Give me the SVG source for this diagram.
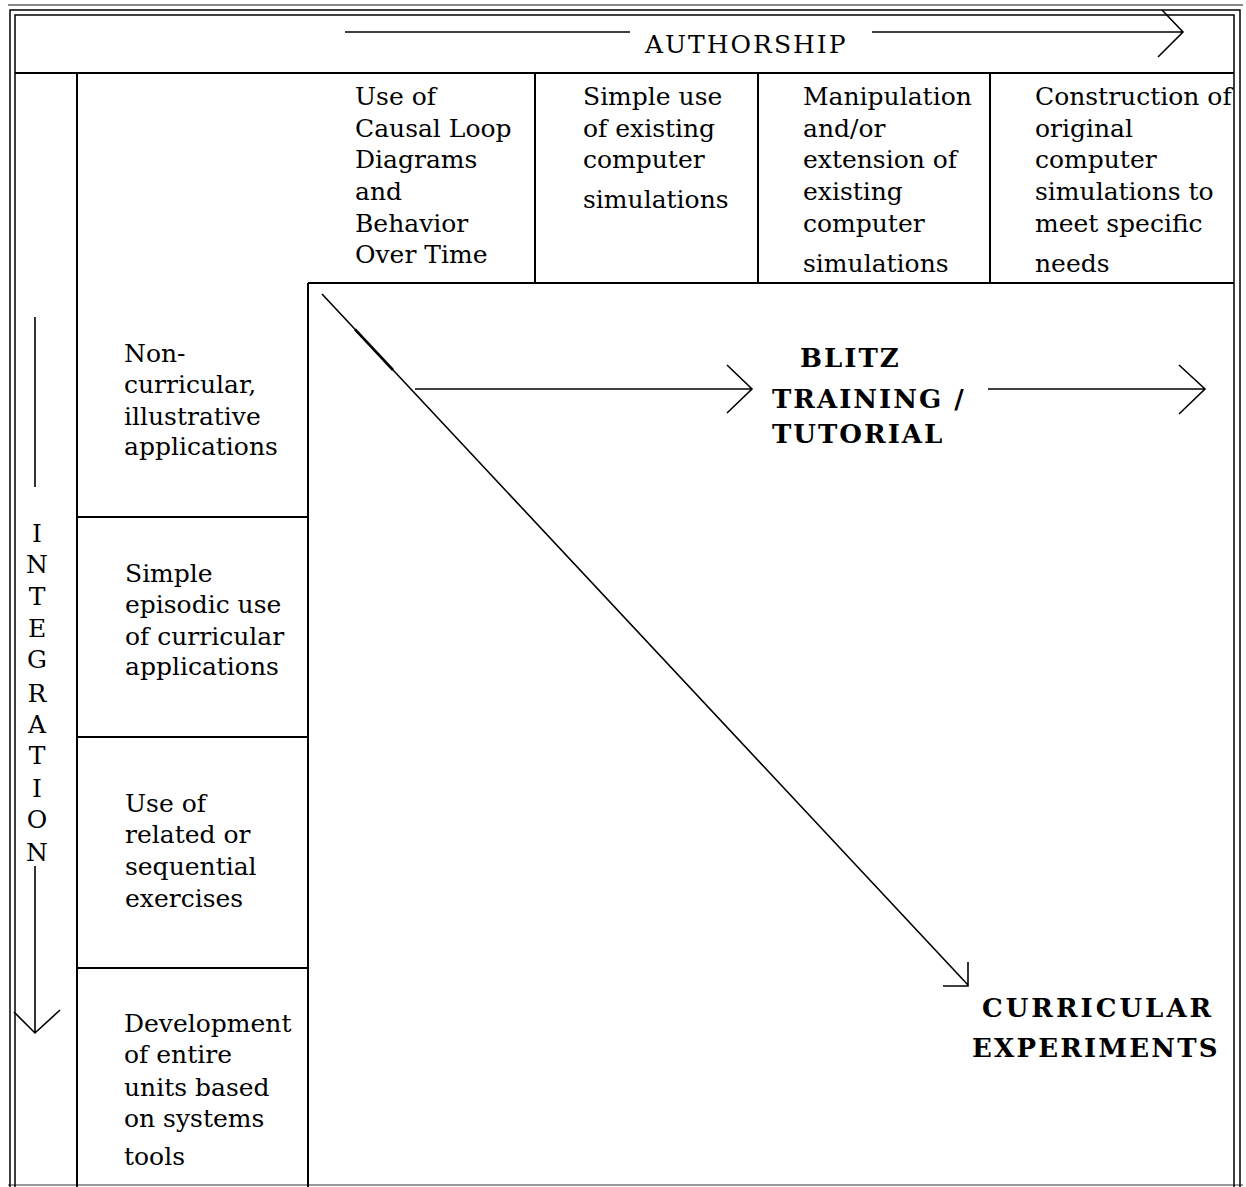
<svg xmlns="http://www.w3.org/2000/svg" width="1246" height="1187" viewBox="0 0 1246 1187">
<style>
.t{font-family:"DejaVu Serif","Liberation Serif",serif;font-size:25px;fill:#000}
.b{font-family:"DejaVu Serif","Liberation Serif",serif;font-size:26px;font-weight:bold;fill:#000;letter-spacing:2px}
.g{stroke:#000;stroke-width:2;fill:none}
.f{stroke:#000;stroke-width:1.5;fill:none}
.c{stroke:#000;stroke-width:1.6;fill:none}
</style>
<rect x="0" y="0" width="1246" height="1187" fill="#fff"/>
<g id="frame">
<line x1="8" y1="5" x2="1243" y2="5" stroke="#888" stroke-width="2"/>
<line x1="8" y1="1185" x2="1243" y2="1185" stroke="#999" stroke-width="2"/>
<path class="f" d="M10,1187 V10 H1240 V1187"/>
<path class="f" d="M15,1187 V15 H1234 V1187"/>
<line class="g" x1="15" y1="73" x2="1234" y2="73"/>
<line class="g" x1="77" y1="73" x2="77" y2="1187"/>
<line class="g" x1="535" y1="73" x2="535" y2="283"/>
<line class="g" x1="758" y1="73" x2="758" y2="283"/>
<line class="g" x1="990" y1="73" x2="990" y2="283"/>
<line class="g" x1="308" y1="283" x2="1234" y2="283"/>
<line class="g" x1="308" y1="283" x2="308" y2="1187"/>
<line class="g" x1="77" y1="517" x2="308" y2="517"/>
<line class="g" x1="77" y1="737" x2="308" y2="737"/>
<line class="g" x1="77" y1="968" x2="308" y2="968"/>
</g>
<g id="authorship">
<text class="t" x="645" y="53" style="letter-spacing:2px">AUTHORSHIP</text>
</g>
<g id="integration">
<text class="t" text-anchor="middle" x="37"><tspan x="37" y="542">I</tspan><tspan x="37" y="573">N</tspan><tspan x="37" y="605">T</tspan><tspan x="37" y="637">E</tspan><tspan x="37" y="668">G</tspan><tspan x="37" y="702">R</tspan><tspan x="37" y="733">A</tspan><tspan x="37" y="764">T</tspan><tspan x="37" y="797">I</tspan><tspan x="37" y="828">O</tspan><tspan x="37" y="861">N</tspan></text>
</g>
<g id="col1">
<text class="t"><tspan x="355" y="105">Use of</tspan><tspan x="355" y="137">Causal Loop</tspan><tspan x="355" y="168">Diagrams</tspan><tspan x="355" y="200">and</tspan><tspan x="355" y="232">Behavior</tspan><tspan x="355" y="263">Over Time</tspan></text>
</g>
<g id="col2">
<text class="t"><tspan x="583" y="105">Simple use</tspan><tspan x="583" y="137">of existing</tspan><tspan x="583" y="168">computer</tspan><tspan x="583" y="208">simulations</tspan></text>
</g>
<g id="col3">
<text class="t"><tspan x="803" y="105">Manipulation</tspan><tspan x="803" y="137">and/or</tspan><tspan x="803" y="168">extension of</tspan><tspan x="803" y="200">existing</tspan><tspan x="803" y="232">computer</tspan><tspan x="803" y="272">simulations</tspan></text>
</g>
<g id="col4">
<text class="t"><tspan x="1035" y="105">Construction of</tspan><tspan x="1035" y="137">original</tspan><tspan x="1035" y="168">computer</tspan><tspan x="1035" y="200">simulations to</tspan><tspan x="1035" y="232">meet specific</tspan><tspan x="1035" y="272">needs</tspan></text>
</g>
<g id="row1">
<text class="t"><tspan x="124" y="362">Non-</tspan><tspan x="124" y="393">curricular,</tspan><tspan x="124" y="425">illustrative</tspan><tspan x="124" y="455">applications</tspan></text>
</g>
<g id="row2">
<text class="t"><tspan x="125" y="582">Simple</tspan><tspan x="125" y="613">episodic use</tspan><tspan x="125" y="645">of curricular</tspan><tspan x="125" y="675">applications</tspan></text>
</g>
<g id="row3">
<text class="t"><tspan x="125" y="812">Use of</tspan><tspan x="125" y="843">related or</tspan><tspan x="125" y="875">sequential</tspan><tspan x="125" y="907">exercises</tspan></text>
</g>
<g id="row4">
<text class="t"><tspan x="124" y="1032">Development</tspan><tspan x="124" y="1063">of entire</tspan><tspan x="124" y="1096">units based</tspan><tspan x="124" y="1127">on systems</tspan><tspan x="124" y="1165">tools</tspan></text>
</g>
<g id="blitz">
<text class="b"><tspan x="800" y="367">BLITZ</tspan><tspan x="772" y="408">TRAINING /</tspan><tspan x="772" y="443">TUTORIAL</tspan></text>
</g>
<g id="curricular">
<text class="b" x="982" y="1017" style="letter-spacing:3px">CURRICULAR</text>
<text class="b" x="972" y="1057" style="letter-spacing:2.2px">EXPERIMENTS</text>
</g>
<g id="connectors">
<path class="c" d="M345,32 H630 M872,32 H1183 M1162,10 L1183,32 L1158,57"/>
<path class="c" d="M35,317 V487 M35,866 V1033 M14,1012 L35,1033 L60,1010"/>
<path class="c" d="M322,294 L968,985 M968,962 V986 H943"/>
<line x1="355" y1="329.3" x2="393" y2="370" stroke="#000" stroke-width="2.6"/>
<path class="c" d="M415,389 H752 M727,365 L752,389 L727,413"/>
<path class="c" d="M988,389 H1205 M1179,365 L1205,389 L1179,414"/>
</g>
</svg>
